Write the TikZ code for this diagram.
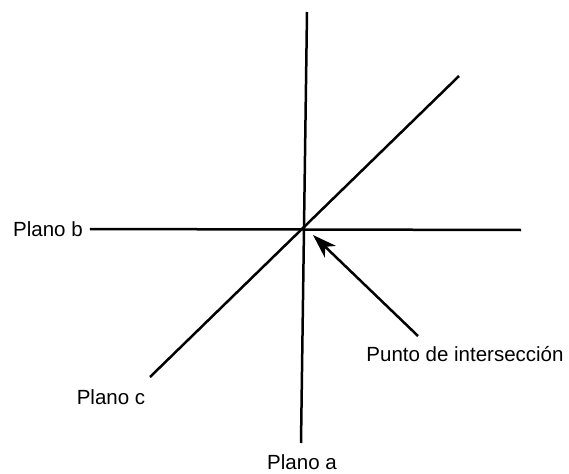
\documentclass[tikz,border=0pt]{standalone}
\usepackage{fontspec}
\setmainfont{Liberation Sans}
\usetikzlibrary{arrows.meta}

\begin{document}
\begin{tikzpicture}[x=1pt, y=-1pt, >=Stealth,
    plane/.style={line width=2.5pt, black},
    lbl/.style={font=\fontsize{20.5}{23}\selectfont, inner sep=0pt}]
    \useasboundingbox (0,0) rectangle (569,473);
    % planes meeting at one point
    \coordinate (o) at (305,229);
    \coordinate (aT) at (307,12);
    \coordinate (aB) at (301,443);
    \coordinate (bR) at (521,230);
    \coordinate (cT) at (459,76);
    \coordinate (cB) at (150,377);
    \node[lbl, anchor=west] (lb) at (13,229) {Plano b};
    \node[lbl] (la) at (302,462) {Plano a};
    \node[lbl] (lc) at (111,397) {Plano c};
    \node[lbl] (lp) at (465,354) {Punto de intersección};
    \draw[plane] (aT) -- (aB);
    \draw[plane] ([xshift=7pt]lb.east) -- (bR);
    \draw[plane] (cT) -- (cB);
    \coordinate (pT) at (418,336);
    \draw[plane, -{Stealth[length=24pt, width=16pt, inset=7pt]}] (pT) -- (313,235);
\end{tikzpicture}
\end{document}
